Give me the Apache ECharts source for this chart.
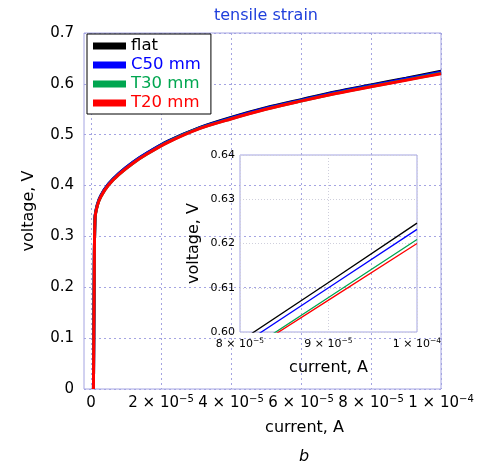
<!DOCTYPE html>
<html>
<head>
<meta charset="UTF-8">
<title>tensile strain</title>
<script src="https://cdn.jsdelivr.net/npm/echarts@6/dist/echarts.min.js"></script>
<style>
  html, body { margin: 0; padding: 0; background: #fff; }
  #chart { width: 499px; height: 469px; }
</style>
</head>
<body>
<div id="chart"></div>
<script>
// data (current in A, voltage in V)
const seriesNames = ['flat', 'C50 mm', 'T30 mm', 'T20 mm'];
const seriesColors = ['#000000', '#0000ff', '#00a650', '#ff0000'];
const current = [0.7e-6, 0.9e-6, 1.15e-6, 1.8e-6, 2.8e-6, 5e-6, 8e-6, 12e-6, 16e-6, 22e-6,
                 31e-6, 40e-6, 50e-6, 60e-6, 70e-6, 80e-6, 90e-6, 100e-6];
const vFlat  = [0, 0.20, 0.337, 0.362, 0.380, 0.403, 0.424, 0.446, 0.464, 0.4875,
                0.514, 0.534, 0.553, 0.569, 0.5845, 0.5979, 0.6112, 0.6246];
const vC50   = [0, 0.20, 0.337, 0.362, 0.380, 0.403, 0.424, 0.446, 0.464, 0.487,
                0.5135, 0.533, 0.552, 0.568, 0.5835, 0.5968, 0.6100, 0.6232];
const vT30   = [0, 0.20, 0.335, 0.360, 0.378, 0.401, 0.422, 0.444, 0.462, 0.4855,
                0.5123, 0.5313, 0.5503, 0.5664, 0.5815, 0.5947, 0.6078, 0.6209];
const vT20   = [0, 0.20, 0.335, 0.360, 0.378, 0.401, 0.422, 0.444, 0.462, 0.485,
                0.512, 0.531, 0.550, 0.566, 0.581, 0.5944, 0.6072, 0.6200];
const mainXTicks = [0, 2e-5, 4e-5, 6e-5, 8e-5, 1e-4];
const insetXTicks = [8e-5, 9e-5, 1e-4];

const font = 'DejaVu Sans';
const frameColor = '#a4a4e2';
const voltages = [vFlat, vC50, vT30, vT20];

function pairs(v) {
  return current.map((c, i) => [c, v[i]]);
}

// "2 × 10^-5" style labels
function sciLabel(v) {
  if (Math.abs(v) < 1e-12) return '{m|0}';
  const e = Math.floor(Math.log10(v) + 1e-9);
  const m = Math.round(v / Math.pow(10, e));
  return '{m|' + m + ' × 10}{e|−' + (-e) + '}';
}

const chart = echarts.init(document.getElementById('chart'));

const series = [];
voltages.forEach((v, i) => {
  series.push({
    name: seriesNames[i], type: 'line', xAxisIndex: 0, yAxisIndex: 0,
    data: pairs(v), symbol: 'none', smooth: 0.3,
    lineStyle: { width: 3, color: seriesColors[i] },
    itemStyle: { color: seriesColors[i] }
  });
});
voltages.forEach((v, i) => {
  series.push({
    name: seriesNames[i], type: 'line', xAxisIndex: 1, yAxisIndex: 1,
    data: pairs(v), symbol: 'none', clip: true,
    lineStyle: { width: 1.3, color: seriesColors[i] },
    itemStyle: { color: seriesColors[i] }
  });
});

const option = {
  animation: false,
  backgroundColor: '#fff',
  title: [
    { text: 'tensile strain', left: 214, top: 8, padding: 0,
      textStyle: { color: '#1f3fdc', fontSize: 16, fontWeight: 'normal', fontFamily: font } },
    { text: 'b', left: 299, top: 449, padding: 0,
      textStyle: { color: '#000', fontSize: 16, fontStyle: 'italic', fontWeight: 'normal', fontFamily: font } }
  ],
  legend: {
    left: 87, top: 34, orient: 'vertical',
    icon: 'rect', itemWidth: 33, itemHeight: 7, itemGap: 1,
    padding: [3, 10, 2, 6],
    borderColor: '#000', borderWidth: 1, backgroundColor: '#fff',
    selectedMode: false,
    textStyle: { fontSize: 16.5, lineHeight: 18, fontFamily: font },
    data: seriesNames.map((n, i) => ({ name: n, textStyle: { color: seriesColors[i] } }))
  },
  grid: [
    { left: 84, right: 58, top: 33, bottom: 80, show: true,
      borderColor: frameColor, borderWidth: 1, backgroundColor: 'transparent' },
    { left: 240, right: 82, top: 155, bottom: 137, show: true,
      borderColor: frameColor, borderWidth: 1, backgroundColor: 'transparent' }
  ],
  xAxis: [
    {
      type: 'value', gridIndex: 0, min: -2e-6, max: 1e-4,
      name: 'current, A', nameLocation: 'middle', nameGap: 31,
      nameTextStyle: { fontSize: 16, color: '#000', fontFamily: font, padding: [0, 0, 0, 84] },
      axisLine: { show: false },
      axisTick: { show: false, customValues: mainXTicks },
      axisLabel: {
        customValues: mainXTicks, margin: 5, formatter: sciLabel,
        rich: {
          m: { fontSize: 15, lineHeight: 17, color: '#000', fontFamily: font, verticalAlign: 'bottom' },
          e: { fontSize: 10, lineHeight: 10, color: '#000', fontFamily: font, verticalAlign: 'top' }
        }
      },
      splitLine: { show: true, lineStyle: { color: frameColor, width: 1, type: [2, 3] } }
    },
    {
      type: 'value', gridIndex: 1, min: 8e-5, max: 1e-4,
      name: 'current, A', nameLocation: 'middle', nameGap: 28,
      nameTextStyle: { fontSize: 16, color: '#000', fontFamily: font },
      axisLine: { show: false },
      axisTick: { show: false, customValues: insetXTicks },
      axisLabel: {
        customValues: insetXTicks, margin: 5, formatter: sciLabel,
        rich: {
          m: { fontSize: 11, lineHeight: 13, color: '#000', fontFamily: font, verticalAlign: 'bottom' },
          e: { fontSize: 7.5, lineHeight: 8, color: '#000', fontFamily: font, verticalAlign: 'top' }
        }
      },
      splitLine: { show: true, lineStyle: { color: '#cfcfdc', width: 1, type: [1, 2] } }
    }
  ],
  yAxis: [
    {
      type: 'value', gridIndex: 0, min: 0, max: 0.7, interval: 0.1,
      name: 'voltage, V', nameLocation: 'middle', nameGap: 47,
      nameTextStyle: { fontSize: 16, color: '#000', fontFamily: font },
      axisLine: { show: false }, axisTick: { show: false },
      axisLabel: { fontSize: 15, color: '#000', fontFamily: font, margin: 10 },
      splitLine: { show: true, lineStyle: { color: frameColor, width: 1, type: [2, 3] } }
    },
    {
      type: 'value', gridIndex: 1, min: 0.6, max: 0.64, interval: 0.01,
      name: 'voltage, V', nameLocation: 'middle', nameGap: 38,
      nameTextStyle: { fontSize: 16, color: '#000', fontFamily: font },
      axisLine: { show: false }, axisTick: { show: false },
      axisLabel: { fontSize: 11, color: '#000', fontFamily: font, margin: 5,
        formatter: v => v.toFixed(2) },
      splitLine: { show: true, lineStyle: { color: '#cfcfdc', width: 1, type: [1, 2] } }
    }
  ],
  series: series
};

chart.setOption(option);
</script>
</body>
</html>
